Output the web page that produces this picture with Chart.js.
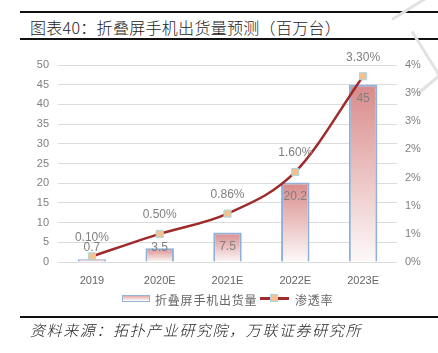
<!DOCTYPE html>
<html>
<head>
<meta charset="utf-8">
<script src="https://cdn.jsdelivr.net/npm/chart.js@4/dist/chart.umd.min.js"></script>
<style>
  body { margin: 0; background: #fff; width: 438px; height: 353px; position: relative; overflow: hidden; font-family: "Noto Sans CJK SC", sans-serif; }
  .rule { position: absolute; left: 20px; right: 0; height: 2px; background: #111; }
  #title { position: absolute; left: 30px; top: 15px; font-size: 16px; color: #222; letter-spacing: 0.3px; white-space: nowrap; font-weight: 300; }
  #source { position: absolute; left: 30px; top: 319px; font-size: 15px; font-style: italic; color: #222; letter-spacing: 1.6px; white-space: nowrap; font-weight: 300; }
  #wrap { position: absolute; left: 0; top: 48px; width: 438px; height: 248px; }
  .leg { position: absolute; top: 291px; font-size: 12px; color: #666; letter-spacing: 0.8px; white-space: nowrap; }
  .mark { position: absolute; background: #e2e2e2; height: 3px; transform-origin: left center; }
</style>
</head>
<body>
<div class="rule" style="top:11px"></div>
<div id="title">图表40：折叠屏手机出货量预测（百万台）</div>
<div class="rule" style="top:38px"></div>
<div class="mark" style="left:392px;top:18px;width:60px;transform:rotate(-32deg)"></div>
<div class="mark" style="left:412px;top:30px;width:70px;transform:rotate(58deg)"></div>
<div class="mark" style="left:418px;top:92px;width:40px;transform:rotate(-40deg)"></div>

<div id="wrap"><canvas id="shipChart"></canvas></div>

<div style="position:absolute;left:122px;top:295px;width:26px;height:5px;border:1.5px solid #93b3db;background:linear-gradient(#e6a9a9,#fff);"></div>
<div class="leg" style="left:155px">折叠屏手机出货量</div>
<div style="position:absolute;left:260px;top:297px;width:29px;height:3px;background:#9e2b2b;"></div>
<div style="position:absolute;left:270px;top:294px;width:8px;height:8px;background:#f8c08c;border:1px solid #a6d7e0;box-sizing:border-box;"></div>
<div class="leg" style="left:295px">渗透率</div>

<div class="rule" style="top:316px"></div>
<div id="source">资料来源：拓扑产业研究院，万联证券研究所</div>

<script>
const years = ['2019', '2020E', '2021E', '2022E', '2023E'];
const shipments = [0.7, 3.5, 7.5, 20.2, 45];
const penetration = [0.10, 0.50, 0.86, 1.60, 3.30];
const shipmentLabels = ['0.7', '3.5', '7.5', '20.2', '45'];
const penetrationLabels = ['0.10%', '0.50%', '0.86%', '1.60%', '3.30%'];

const tickFont = { family: "'Liberation Sans', Arial, sans-serif", size: 11 };

function barGradient(c) {
    const chart = c.chart;
    if (!chart.chartArea || c.type !== 'data') return '#e8b0b0';
    const y = chart.scales.y;
    const top = y.getPixelForValue(c.raw);
    const bottom = y.getPixelForValue(0);
    const g = chart.ctx.createLinearGradient(0, top, 0, bottom);
    g.addColorStop(0, '#d98a8a');
    g.addColorStop(1, '#fdf9f9');
    return g;
}

const valueLabels = {
    id: 'valueLabels',
    afterDatasetsDraw(chart) {
        const ctx = chart.ctx;
        ctx.save();
        ctx.font = "12px 'Liberation Sans', Arial, sans-serif";
        ctx.fillStyle = '#7f7f7f';
        ctx.textAlign = 'center';
        ctx.textBaseline = 'middle';
        chart.getDatasetMeta(0).data.forEach((bar, i) => {
            const y = Math.min(bar.y + 14, chart.chartArea.bottom - 14);
            ctx.fillText(shipmentLabels[i], bar.x, y);
        });
        chart.getDatasetMeta(1).data.forEach((pt, i) => {
            ctx.fillText(penetrationLabels[i], pt.x, pt.y - 19);
        });
        ctx.restore();
    }
};

new Chart(document.getElementById('shipChart'), {
    data: {
        labels: years,
        datasets: [{
            type: 'bar',
            label: '折叠屏手机出货量',
            data: shipments,
            yAxisID: 'y',
            backgroundColor: barGradient,
            borderColor: '#8fb0da',
            borderWidth: 2,
            barPercentage: 0.42,
            categoryPercentage: 1,
            order: 1
        }, {
            type: 'line',
            label: '渗透率',
            data: penetration,
            yAxisID: 'y1',
            borderColor: '#9e2b2b',
            borderWidth: 2.5,
            tension: 0.4,
            cubicInterpolationMode: 'monotone',
            pointStyle: 'rect',
            pointRadius: 5,
            pointBackgroundColor: '#f8c08c',
            pointBorderColor: '#a6d7e0',
            pointBorderWidth: 1,
            order: 0
        }]
    },
    options: {
        responsive: true,
        maintainAspectRatio: false,
        animation: false,
        layout: { padding: { top: 17, left: 0, right: 0, bottom: 0 } },
        plugins: { legend: { display: false }, tooltip: { enabled: false } },
        scales: {
            x: {
                offset: true,
                grid: { display: false, drawTicks: false },
                border: { display: false },
                ticks: { color: '#666', font: tickFont, padding: 12 },
                afterFit(s) { s.height = 34; }
            },
            y: {
                position: 'left',
                min: 0, max: 50,
                ticks: { stepSize: 5, color: '#808080', font: tickFont, padding: 9 },
                grid: { color: '#dcdcdc', drawTicks: false },
                border: { display: false },
                afterFit(s) { s.width = 58; }
            },
            y1: {
                position: 'right',
                min: 0, max: 3.5,
                ticks: {
                    stepSize: 0.5, color: '#808080', font: tickFont, padding: 8,
                    callback: v => Math.round(v) + '%'
                },
                grid: { drawOnChartArea: false, drawTicks: false },
                border: { display: false },
                afterFit(s) { s.width = 41; }
            }
        }
    },
    plugins: [valueLabels]
});
</script>
</body>
</html>
